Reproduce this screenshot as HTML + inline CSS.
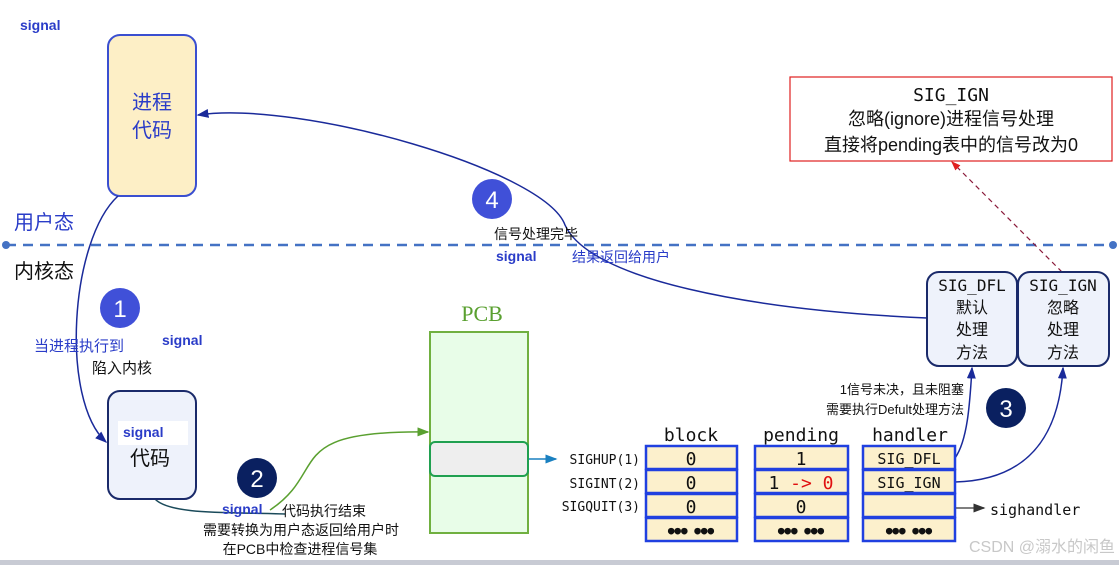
<!DOCTYPE html>
<html><head><meta charset="utf-8"><style>
body{margin:0;background:#fff}
svg{display:block}
text{font-family:"Liberation Sans","Noto Sans CJK SC",sans-serif}
.m{font-family:"DejaVu Sans Mono","Noto Sans CJK SC",monospace}
.b{font-weight:bold;fill:#2a3cc8;font-size:14px}
</style></head><body>
<svg width="1119" height="565" viewBox="0 0 1119 565" xmlns="http://www.w3.org/2000/svg">
<defs>
<marker id="a" markerWidth="8" markerHeight="8" refX="7" refY="4" orient="auto"><path d="M0,1 L8,4 L0,7Z" fill="#1a2a9a"/></marker>
<marker id="g" markerWidth="8" markerHeight="8" refX="7" refY="4" orient="auto"><path d="M0,1 L8,4 L0,7Z" fill="#5aa030"/></marker>
<marker id="t" markerWidth="8" markerHeight="8" refX="7" refY="4" orient="auto"><path d="M0,1 L8,4 L0,7Z" fill="#1a80c0"/></marker>
<marker id="r" markerWidth="8" markerHeight="8" refX="7" refY="4" orient="auto"><path d="M0,1 L8,4 L0,7Z" fill="#e02020"/></marker>
<marker id="k" markerWidth="8" markerHeight="8" refX="7" refY="4" orient="auto"><path d="M0,1 L8,4 L0,7Z" fill="#333"/></marker>
</defs>
<text x="20" y="30" class="b">signal</text>
<rect x="108" y="35" width="88" height="161" rx="12" fill="#fdefc6" stroke="#3a4fd0" stroke-width="2"/>
<text x="152" y="109" font-size="20" fill="#2a3cc8" text-anchor="middle">进程</text>
<text x="152" y="137" font-size="20" fill="#2a3cc8" text-anchor="middle">代码</text>
<text x="14" y="229" font-size="20" fill="#2a3cc8">用户态</text>
<line x1="6" y1="245" x2="1113" y2="245" stroke="#4472c4" stroke-width="2.5" stroke-dasharray="10,7"/>
<circle cx="6" cy="245" r="4" fill="#4472c4"/><circle cx="1113" cy="245" r="4" fill="#4472c4"/>
<text x="14" y="278" font-size="20" fill="#111">内核态</text>
<path d="M118,196 C70,240 60,400 106,442" fill="none" stroke="#1a2a9a" stroke-width="1.5" marker-end="url(#a)"/>
<path d="M927,318 C750,310 590,280 565,225 C545,170 300,100 198,115" fill="none" stroke="#1a2a9a" stroke-width="1.5" marker-end="url(#a)"/>
<path d="M155,499 C170,515 230,512 285,514" fill="none" stroke="#1a4a5a" stroke-width="1.5"/>
<path d="M270,510 C330,470 280,430 428,432" fill="none" stroke="#5aa030" stroke-width="1.5" marker-end="url(#g)"/>
<path d="M955,458 C968,440 970,400 972,368" fill="none" stroke="#1a2a9a" stroke-width="1.5" marker-end="url(#a)"/>
<path d="M955,482 C1040,480 1060,420 1063,368" fill="none" stroke="#1a2a9a" stroke-width="1.5" marker-end="url(#a)"/>
<path d="M1062,272 L952,162" fill="none" stroke="#8a1a3a" stroke-width="1.2" stroke-dasharray="5,4" marker-end="url(#r)"/>
<line x1="528" y1="459" x2="556" y2="459" stroke="#1a80c0" stroke-width="1.5" marker-end="url(#t)"/>
<line x1="900" y1="508" x2="984" y2="508" stroke="#555" stroke-width="1.5" marker-end="url(#k)"/>
<circle cx="120" cy="308" r="20" fill="#4050d8"/><text x="120" y="317" font-size="24" fill="#fff" text-anchor="middle">1</text>
<circle cx="257" cy="478" r="20" fill="#0a2060"/><text x="257" y="487" font-size="24" fill="#fff" text-anchor="middle">2</text>
<circle cx="1006" cy="408" r="20" fill="#0a2060"/><text x="1006" y="417" font-size="24" fill="#fff" text-anchor="middle">3</text>
<circle cx="492" cy="199" r="20" fill="#4050d8"/><text x="492" y="208" font-size="24" fill="#fff" text-anchor="middle">4</text>
<text x="34" y="351" font-size="15" fill="#2a3cc8">当进程执行到</text>
<text x="92" y="373" font-size="15" fill="#111">陷入内核</text>
<text x="162" y="345" class="b">signal</text>
<rect x="108" y="391" width="88" height="108" rx="12" fill="#eef2fb" stroke="#1a2a6a" stroke-width="2"/>
<rect x="118" y="421" width="70" height="24" fill="#fff"/>
<text x="123" y="437" class="b">signal</text>
<text x="150" y="465" font-size="20" fill="#111" text-anchor="middle">代码</text>
<text x="222" y="514" class="b">signal</text>
<text x="282" y="516" font-size="14" fill="#111">代码执行结束</text>
<text x="301" y="535" font-size="14" fill="#111" text-anchor="middle">需要转换为用户态返回给用户时</text>
<text x="300" y="554" font-size="14" fill="#111" text-anchor="middle">在PCB中检查进程信号集</text>
<text x="482" y="321" fill="#5aa030" text-anchor="middle" style="font-family:'Liberation Serif',serif;font-size:22px">PCB</text>
<rect x="430" y="332" width="98" height="201" fill="#e8fde8" stroke="#70b040" stroke-width="2"/>
<rect x="430" y="442" width="98" height="34" rx="5" fill="#eeeeee" stroke="#20a050" stroke-width="2"/>
<text x="494" y="239" font-size="14" fill="#111">信号处理完毕</text>
<text x="496" y="261" class="b">signal</text>
<text x="572" y="262" font-size="14" fill="#2a3cc8">结果返回给用户</text>
<g fill="#111">
<text x="691" y="441" style="font-size:18px" text-anchor="middle" class="m">block</text>
<text x="801" y="441" style="font-size:18px" text-anchor="middle" class="m">pending</text>
<text x="910" y="441" style="font-size:18px" text-anchor="middle" class="m">handler</text>
<text x="640" y="464" style="font-size:13px" text-anchor="end" class="m">SIGHUP(1)</text>
<text x="640" y="488" style="font-size:13px" text-anchor="end" class="m">SIGINT(2)</text>
<text x="640" y="511" style="font-size:13px" text-anchor="end" class="m">SIGQUIT(3)</text>
</g>
<g stroke="#2040e0" stroke-width="2.5" fill="#fcf0cc">
<rect x="646" y="446" width="91" height="23"/><rect x="646" y="470" width="91" height="23"/><rect x="646" y="494" width="91" height="23"/><rect x="646" y="518" width="91" height="23"/>
<rect x="755" y="446" width="93" height="23"/><rect x="755" y="470" width="93" height="23"/><rect x="755" y="494" width="93" height="23"/><rect x="755" y="518" width="93" height="23"/>
<rect x="863" y="446" width="92" height="23"/><rect x="863" y="470" width="92" height="23"/><rect x="863" y="494" width="92" height="23"/><rect x="863" y="518" width="92" height="23"/>
</g>
<g fill="#111" text-anchor="middle">
<text x="691" y="465" style="font-size:18px" class="m">0</text><text x="691" y="489" style="font-size:18px" class="m">0</text><text x="691" y="513" style="font-size:18px" class="m">0</text><text x="691" y="534" style="font-size:11px" class="m">●●● ●●●</text>
<text x="801" y="465" style="font-size:18px" class="m">1</text><text x="801" y="489" style="font-size:18px" class="m">1 <tspan fill="#e01010">-&gt; 0</tspan></text><text x="801" y="513" style="font-size:18px" class="m">0</text><text x="801" y="534" style="font-size:11px" class="m">●●● ●●●</text>
<text x="909" y="464" style="font-size:15px" class="m">SIG_DFL</text><text x="909" y="488" style="font-size:15px" class="m">SIG_IGN</text><text x="909" y="534" style="font-size:11px" class="m">●●● ●●●</text>
</g>
<text x="990" y="515" style="font-size:15px" fill="#111" class="m">sighandler</text>
<rect x="927" y="272" width="90" height="94" rx="12" fill="#eef2fb" stroke="#1a2a6a" stroke-width="2"/>
<rect x="1018" y="272" width="91" height="94" rx="12" fill="#eef2fb" stroke="#1a2a6a" stroke-width="2"/>
<g font-size="16" fill="#111" text-anchor="middle">
<text x="972" y="291" class="m">SIG_DFL</text><text x="972" y="313">默认</text><text x="972" y="335">处理</text><text x="972" y="358">方法</text>
<text x="1063" y="291" class="m">SIG_IGN</text><text x="1063" y="313">忽略</text><text x="1063" y="335">处理</text><text x="1063" y="358">方法</text>
</g>
<text x="964" y="394" font-size="13" fill="#111" text-anchor="end">1信号未决，且未阻塞</text>
<text x="964" y="414" font-size="13" fill="#111" text-anchor="end">需要执行Defult处理方法</text>
<rect x="790" y="77" width="322" height="84" fill="#fff" stroke="#e02020" stroke-width="1.2"/>
<g font-size="18" fill="#111" text-anchor="middle">
<text x="951" y="101" class="m">SIG_IGN</text>
<text x="951" y="125">忽略(ignore)进程信号处理</text>
<text x="951" y="151">直接将pending表中的信号改为0</text>
</g>
<text x="1115" y="552" font-size="16" fill="#c8c8c8" text-anchor="end">CSDN @溺水的闲鱼</text>
<rect x="0" y="560" width="1119" height="5" fill="#c8cbd4"/>
</svg>
</body></html>
